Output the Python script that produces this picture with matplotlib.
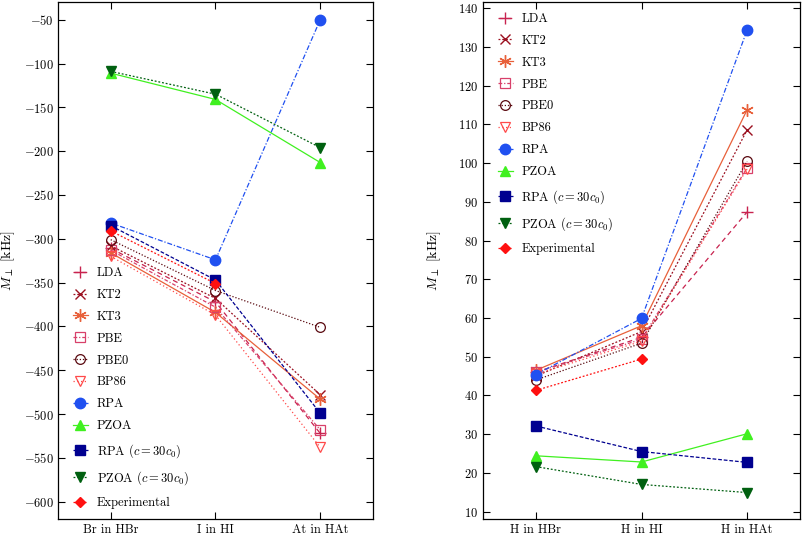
import numpy as np
import matplotlib
matplotlib.use("Agg")
import matplotlib.pyplot as plt

plt.rcParams['font.family'] = 'serif'
plt.rcParams['font.serif'] = ['cmr10']
plt.rcParams['mathtext.fontset'] = 'cm'
plt.rcParams['axes.formatter.use_mathtext'] = True
plt.rcParams['axes.unicode_minus'] = True

# Data
left_cats = ["Br in HBr", "I in HI", "At in HAt"]
right_cats = ["H in HBr", "H in HI", "H in HAt"]

methods = ["LDA", "KT2", "KT3", "PBE", "PBE0", "BP86", "RPA", "PZOA",
           r"RPA ($c=30c_0$)", r"PZOA ($c=30c_0$)", "Experimental"]

left_vals = {
    "LDA": [-311, -372, -522],
    "KT2": [-308, -368, -478],
    "KT3": [-316, -384, -483],
    "PBE": [-313, -378, -518],
    "PBE0": [-301, -359, -401],
    "BP86": [-320, -387, -538],
    "RPA": [-282, -324, -50],
    "PZOA": [-111, -141, -213],
    r"RPA ($c=30c_0$)": [-285, -347, -499],
    r"PZOA ($c=30c_0$)": [-109, -135, -196],
    "Experimental": [-291, -351, np.nan],
}

right_vals = {
    "LDA": [46.0, 55.0, 87.4],
    "KT2": [45.0, 56.5, 108.6],
    "KT3": [46.5, 58.0, 113.8],
    "PBE": [46.0, 54.5, 98.8],
    "PBE0": [44.0, 53.5, 100.5],
    "BP86": [45.5, 54.0, 98.5],
    "RPA": [45.4, 59.9, 134.4],
    "PZOA": [24.4, 22.8, 30.1],
    r"RPA ($c=30c_0$)": [32.1, 25.5, 22.7],
    r"PZOA ($c=30c_0$)": [21.6, 17.0, 14.9],
    "Experimental": [41.3, 49.4, np.nan],
}

# Styles
styles = {
    "LDA": dict(color="#c8234f", marker="+", ls=(0, (4, 3)), ms=8, mfc="none", mew=1.0),
    "KT2": dict(color="#9b1020", marker="x", ls=(0, (1.5, 1.5)), ms=7, mfc="none", mew=1.0),
    "KT3": dict(color="#e8603a", marker=(6, 2, 0), ls="-", ms=9, mfc="none", mew=1.0),
    "PBE": dict(color="#d8406a", marker="s", ls=(0, (3, 1.5, 1, 1.5)), ms=7, mfc="none", mew=0.9),
    "PBE0": dict(color="#5a0a10", marker="o", ls=(0, (1, 1.5)), ms=7, mfc="none", mew=0.9),
    "BP86": dict(color="#ff4a4a", marker="v", ls=(0, (1, 2)), ms=7, mfc="none", mew=0.9),
    "RPA": dict(color="#2050f0", marker="o", ls=(0, (4, 1.5, 1, 1.5)), ms=7.5),
    "PZOA": dict(color="#40f020", marker="^", ls="-", ms=7),
    r"RPA ($c=30c_0$)": dict(color="#000090", marker="s", ls=(0, (3, 1.5)), ms=7),
    r"PZOA ($c=30c_0$)": dict(color="#006010", marker="v", ls=(0, (1.5, 1.5)), ms=7),
    "Experimental": dict(color="#ff1010", marker="D", ls=(0, (1.5, 1.5)), ms=5.5),
}

fig = plt.figure(figsize=(8.08, 5.37), dpi=100)
ax1 = fig.add_axes([0.0722, 0.033, 0.389, 0.963])
ax2 = fig.add_axes([0.598, 0.033, 0.392, 0.963])

x = np.arange(3)
for ax, vals in ((ax1, left_vals), (ax2, right_vals)):
    for m in methods:
        st = dict(styles[m])
        ax.plot(x, vals[m], label=m, lw=0.9, **st)

for ax, cats in ((ax1, left_cats), (ax2, right_cats)):
    ax.set_xlim(-0.5, 2.5)
    ax.set_xticks(x)
    ax.set_xticklabels(cats, fontsize=9)
    ax.tick_params(direction="in", top=True, right=True, length=5, width=0.8, labelsize=9)
    ax.set_ylabel(r"$M_{\perp}$ [kHz]", fontsize=10)
    for s in ax.spines.values():
        s.set_linewidth(0.9)

ax1.set_ylim(-620, -30)
ax1.set_yticks(np.arange(-600, -49, 50))
ax2.set_ylim(8, 141.6)
ax2.set_yticks(np.arange(10, 141, 10))

ax1.yaxis.set_label_coords(-0.13, 0.5)
ax2.yaxis.set_label_coords(-0.128, 0.5)

leg_kw = dict(frameon=False, fontsize=9, handlelength=1.2, labelspacing=0.78,
              handletextpad=0.7, borderaxespad=0.0)
ax1.legend(loc="lower left", bbox_to_anchor=(0.03, 0.01), **leg_kw)
ax2.legend(loc="upper left", bbox_to_anchor=(0.03, 0.989), **leg_kw)

fig.savefig("out.png", dpi=100)
